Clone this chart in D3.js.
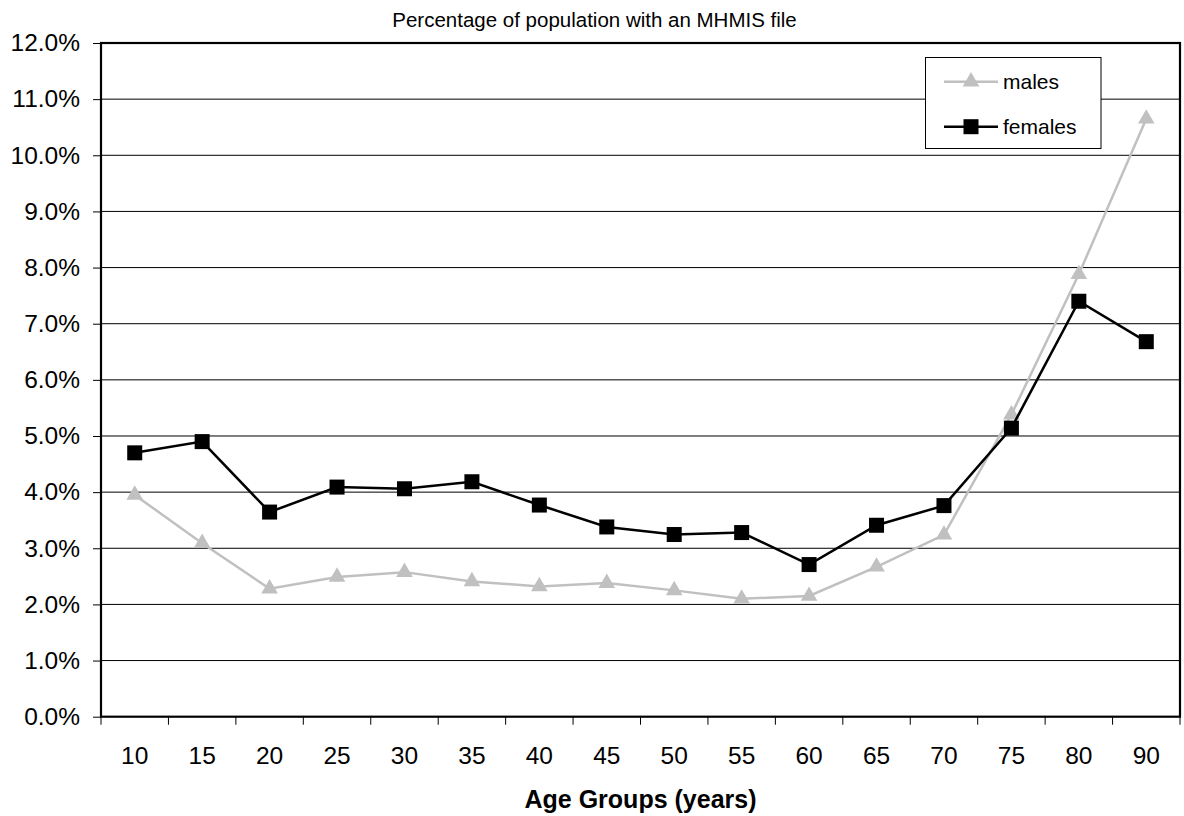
<!DOCTYPE html>
<html><head><meta charset="utf-8">
<script src="https://cdn.jsdelivr.net/npm/d3@7"></script>
<style>body{margin:0;background:#fff}svg{display:block}text{font-family:"Liberation Sans",Arial,sans-serif}</style>
</head><body>
<svg id="c" width="1184" height="816"></svg>
<script>
const ageGroups = ["10","15","20","25","30","35","40","45","50","55","60","65","70","75","80","90"];
const males   = [3.95,3.09,2.28,2.49,2.575,2.41,2.32,2.38,2.25,2.10,2.15,2.67,3.24,5.38,7.88,10.65];
const females = [4.70,4.90,3.645,4.09,4.06,4.185,3.77,3.38,3.245,3.28,2.71,3.41,3.76,5.14,7.40,6.68];
const yTicks = [0,1,2,3,4,5,6,7,8,9,10,11,12];
const title = "Percentage of population with an MHMIS file";
const xTitle = "Age Groups (years)";

const svg = d3.select("#c");
const L=101, R=1180, T=43, B=716.7;
const x = d3.scaleBand().domain(ageGroups).range([L,R]);
const y = d3.scaleLinear().domain([0,12]).range([B,T]);

// gridlines
svg.append("g").selectAll("line").data(yTicks.slice(1,-1)).join("line")
  .attr("x1",L).attr("x2",R).attr("y1",d=>y(d)).attr("y2",d=>y(d))
  .attr("stroke","#000").attr("stroke-width",1);

// y axis
const ya = svg.append("g").attr("transform",`translate(${L},0)`)
  .call(d3.axisLeft(y).tickValues(yTicks).tickFormat(d=>d.toFixed(1)+"%").tickSize(8).tickPadding(13));
ya.select(".domain").remove();
ya.selectAll("line").attr("stroke","#000");
ya.selectAll("text").attr("font-size",24.5).attr("fill","#000").attr("font-family","Liberation Sans, Arial, sans-serif");

// x axis
const xa = svg.append("g").attr("transform",`translate(0,${B})`)
  .call(d3.axisBottom(x).tickSize(0).tickPadding(30));
xa.select(".domain").remove();
xa.selectAll("text").attr("font-size",24.5).attr("fill","#000").attr("font-family","Liberation Sans, Arial, sans-serif");
// category boundary ticks
const bounds = ageGroups.map(d=>x(d)).concat([R]);
svg.append("g").selectAll("line").data(bounds).join("line")
  .attr("x1",d=>d).attr("x2",d=>d).attr("y1",B).attr("y2",B+8).attr("stroke","#000");

// plot border
svg.append("rect").attr("x",L).attr("y",T).attr("width",R-L).attr("height",B-T)
  .attr("fill","none").attr("stroke","#000").attr("stroke-width",2.2);

const cx = d=>x(d)+x.bandwidth()/2;
const line = d3.line().x((v,i)=>cx(ageGroups[i])).y(v=>y(v));

// males
svg.append("path").datum(males).attr("d",line).attr("fill","none").attr("stroke","#c0c0c0").attr("stroke-width",2.5);
const tri = d3.symbol().type(d3.symbolTriangle).size(120);
svg.append("g").selectAll("path").data(males).join("path")
  .attr("d",tri).attr("transform",(v,i)=>`translate(${cx(ageGroups[i])},${y(v)})`).attr("fill","#c0c0c0");

// females
svg.append("path").datum(females).attr("d",line).attr("fill","none").attr("stroke","#000").attr("stroke-width",2.5);
svg.append("g").selectAll("rect").data(females).join("rect")
  .attr("x",(v,i)=>cx(ageGroups[i])-7.5).attr("y",v=>y(v)-7.5).attr("width",15).attr("height",15).attr("fill","#000");

// title
svg.append("text").attr("x",594.5).attr("y",26.5).attr("text-anchor","middle").attr("font-size",20.5).text(title);
svg.append("text").attr("x",(L+R)/2).attr("y",807.5).attr("text-anchor","middle").attr("font-size",25).attr("font-weight","bold").text(xTitle);

// legend
const lg = svg.append("g");
lg.append("rect").attr("x",925.5).attr("y",57.5).attr("width",175.5).attr("height",91).attr("fill","#fff").attr("stroke","#000").attr("stroke-width",1);
lg.append("line").attr("x1",944).attr("x2",998).attr("y1",81.7).attr("y2",81.7).attr("stroke","#c0c0c0").attr("stroke-width",2.5);
lg.append("path").attr("d",tri).attr("transform","translate(971,81.7)").attr("fill","#c0c0c0");
lg.append("text").attr("x",1003).attr("y",88.5).attr("font-size",21).text("males");
lg.append("line").attr("x1",944).attr("x2",998).attr("y1",126.7).attr("y2",126.7).attr("stroke","#000").attr("stroke-width",2.5);
lg.append("rect").attr("x",963.5).attr("y",119.2).attr("width",15).attr("height",15).attr("fill","#000");
lg.append("text").attr("x",1003).attr("y",133.5).attr("font-size",21).text("females");
</script>
</body></html>
